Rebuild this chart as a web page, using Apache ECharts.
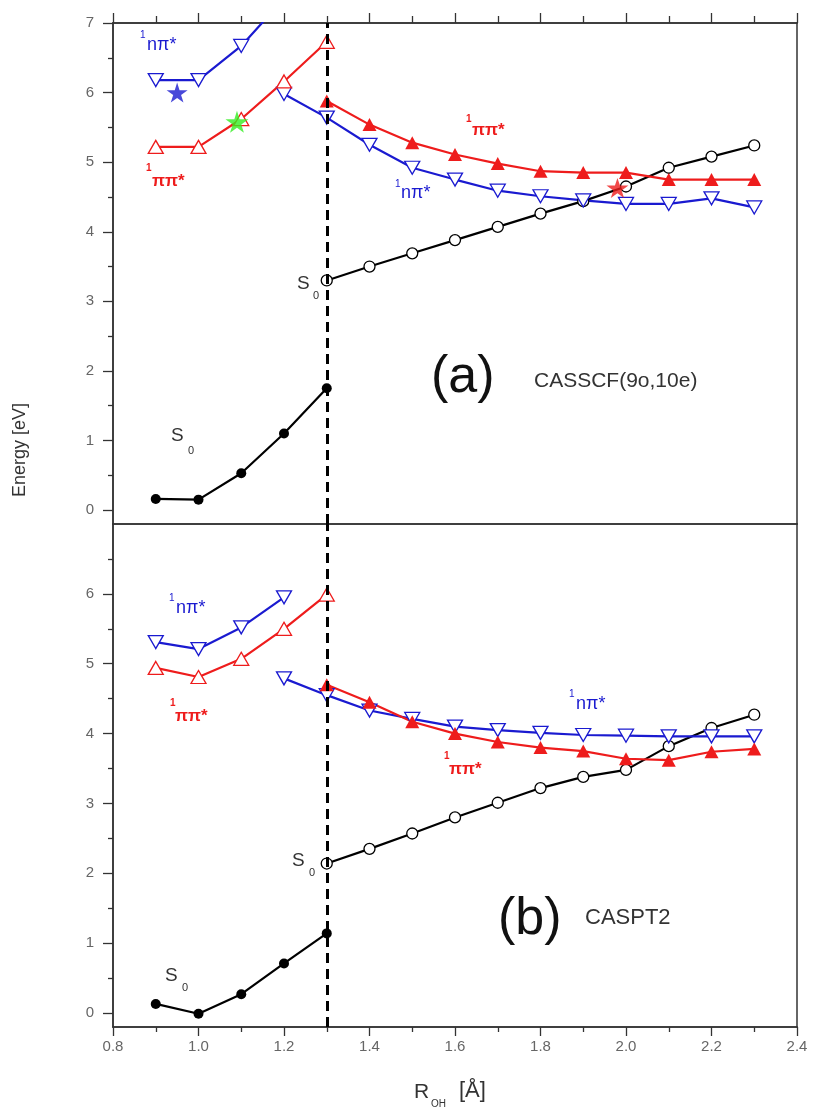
<!DOCTYPE html>
<html><head><meta charset="utf-8">
<script src="https://cdn.jsdelivr.net/npm/echarts@6/dist/echarts.min.js"></script>
<style>html,body{margin:0;padding:0;background:#fff}#c{width:813px;height:1112px}</style>
</head><body><div id="c"></div>
<script>
// ---------- data ----------
const xLow5 = [0.9, 1.0, 1.1, 1.2, 1.3];
const xLow4 = [0.9, 1.0, 1.1, 1.2];
const xHigh11 = [1.3, 1.4, 1.5, 1.6, 1.7, 1.8, 1.9, 2.0, 2.1, 2.2, 2.3];
const xHigh12 = [1.2, 1.3, 1.4, 1.5, 1.6, 1.7, 1.8, 1.9, 2.0, 2.1, 2.2, 2.3];

// (a) CASSCF
const aS0Low  = [0.16, 0.15, 0.53, 1.10, 1.75];
const aS0High = [3.30, 3.50, 3.69, 3.88, 4.07, 4.26, 4.44, 4.65, 4.92, 5.08, 5.24];
const aPPLow  = [5.22, 5.22, 5.62, 6.16, 6.73];
const aNPLow  = [6.18, 6.18, 6.67, 7.35];
const aNPHigh = [5.98, 5.64, 5.25, 4.92, 4.75, 4.59, 4.51, 4.45, 4.40, 4.40, 4.48, 4.35];
const aPPHigh = [5.88, 5.54, 5.28, 5.11, 4.98, 4.87, 4.85, 4.85, 4.75, 4.75, 4.75];
const aStarBlue  = [0.95, 6.00];
const aStarGreen = [1.09, 5.58];
const aStarRed   = [1.98, 4.63];

// (b) CASPT2
const bS0Low  = [0.13, -0.01, 0.27, 0.71, 1.14];
const bS0High = [2.14, 2.35, 2.57, 2.80, 3.01, 3.22, 3.38, 3.48, 3.82, 4.08, 4.27];
const bNPLow  = [5.31, 5.21, 5.52, 5.95];
const bPPLow  = [4.94, 4.81, 5.07, 5.50, 5.99];
const bNPHigh = [4.79, 4.55, 4.33, 4.21, 4.10, 4.05, 4.01, 3.98, 3.97, 3.96, 3.96, 3.96];
const bPPHigh = [4.70, 4.45, 4.17, 4.00, 3.88, 3.80, 3.75, 3.64, 3.62, 3.74, 3.78];

const xMajor = [0.8, 1.0, 1.2, 1.4, 1.6, 1.8, 2.0, 2.2, 2.4];
const xMinor = [0.9, 1.1, 1.3, 1.5, 1.7, 1.9, 2.1, 2.3];
const yMajorA = [0, 1, 2, 3, 4, 5, 6, 7];
const yMajorB = [0, 1, 2, 3, 4, 5, 6];
const yMinor = [0.5, 1.5, 2.5, 3.5, 4.5, 5.5, 6.5];
const dividerX = 1.3;

// ---------- styles ----------
const RED = '#ee1c1c', BLUE = '#1a1ad0', BLACK = '#000';
const FONT = '"Liberation Sans", Arial, sans-serif';
const STAR = 'path://M50,0 L61,35 L98,35 L68,57 L79,91 L50,70 L21,91 L32,57 L2,35 L39,35 Z';

function pts(xs, ys) { return xs.map((x, i) => [x, ys[i]]); }
function ser(g, xs, ys, kind, color) {
  const s = {
    type: 'line', xAxisIndex: g ? 3 : 0, yAxisIndex: g ? 3 : 0,
    data: pts(xs, ys), lineStyle: { color: color, width: 2.2 }, clip: true,
    showAllSymbol: true, silent: true, z: 3
  };
  if (kind === 'openCircle') { s.symbol = 'circle'; s.symbolSize = 11; s.itemStyle = { color: '#fff', borderColor: color, borderWidth: 1.3 }; }
  if (kind === 'fillCircle') { s.symbol = 'circle'; s.symbolSize = 10; s.itemStyle = { color: color, borderColor: color, borderWidth: 0 }; }
  if (kind === 'openUp') { s.symbol = 'triangle'; s.symbolSize = [15, 13]; s.itemStyle = { color: '#fff', borderColor: color, borderWidth: 1.3 }; }
  if (kind === 'openDown') { s.symbol = 'triangle'; s.symbolRotate = 180; s.symbolSize = [15, 13]; s.itemStyle = { color: '#fff', borderColor: color, borderWidth: 1.3 }; }
  if (kind === 'fillUp') { s.symbol = 'triangle'; s.symbolSize = [14, 13]; s.itemStyle = { color: color, borderColor: color, borderWidth: 0 }; }
  return s;
}
function star(g, p, color, size) {
  return { type: 'scatter', xAxisIndex: g ? 3 : 0, yAxisIndex: g ? 3 : 0, data: [p], symbol: STAR,
    symbolSize: size, itemStyle: { color: color }, z: 6, silent: true };
}
function divider(g) {
  return { type: 'line', xAxisIndex: g ? 3 : 0, yAxisIndex: g ? 3 : 0, data: [], silent: true,
    markLine: { symbol: 'none', silent: true, label: { show: false },
      lineStyle: { color: '#000', width: 3, type: [10, 6] }, data: [{ xAxis: dividerX }] } };
}

const axLine = { show: true, onZero: false, lineStyle: { color: '#333', width: 1.5 } };
function xAx(grid, pos, ticks, len, labels) {
  return { type: 'value', gridIndex: grid, position: pos, min: 0.8, max: 2.4,
    axisLine: axLine, splitLine: { show: false },
    axisTick: ticks ? { show: true, customValues: ticks, length: len, lineStyle: { color: '#333', width: 1.3 } } : { show: false },
    axisLabel: labels ? { show: true, customValues: labels, margin: 12, color: '#666', fontSize: 15, fontFamily: FONT,
      formatter: v => v.toFixed(1) } : { show: false } };
}
function yAx(grid, pos, ticks, len, labels) {
  return { type: 'value', gridIndex: grid, position: pos, min: -0.2, max: 7,
    axisLine: axLine, splitLine: { show: false },
    axisTick: ticks ? { show: true, customValues: ticks, length: len, lineStyle: { color: '#333', width: 1.3 } } : { show: false },
    axisLabel: labels ? { show: true, customValues: labels, margin: 19, color: '#666', fontSize: 15, fontFamily: FONT,
      formatter: v => String(Math.round(v)) } : { show: false } };
}

// ---------- annotations ----------
function txt(x, y, text, size, color, weight, extra) {
  return Object.assign({ type: 'text', x: x, y: y, z: 20, silent: true,
    style: { text: text, font: (weight || 'normal') + ' ' + size + 'px ' + FONT, fill: color,
      textAlign: 'left', textVerticalAlign: 'middle', align: 'left', verticalAlign: 'middle' } }, extra || {});
}
const gray = '#333';
const graphics = [
  // panel (a)
  txt(140, 35, '1', 10, BLUE), txt(147, 45, 'nπ*', 18, BLUE),
  txt(146, 168, '1', 10, RED, 'bold'), txt(152, 181, 'ππ*', 17, RED, 'bold'),
  txt(466, 119, '1', 10, RED, 'bold'), txt(472, 130, 'ππ*', 17, RED, 'bold'),
  txt(395, 184, '1', 10, BLUE), txt(401, 193, 'nπ*', 18, BLUE),
  txt(171, 436, 'S', 19, gray), txt(188, 451, '0', 11, gray),
  txt(297, 284, 'S', 19, gray), txt(313, 296, '0', 11, gray),
  txt(431, 378, '(a)', 52, '#111'), txt(534, 381, 'CASSCF(9o,10e)', 21, '#333'),
  // panel (b)
  txt(169, 598, '1', 10, BLUE), txt(176, 608, 'nπ*', 18, BLUE),
  txt(170, 703, '1', 10, RED, 'bold'), txt(175, 716, 'ππ*', 17, RED, 'bold'),
  txt(569, 694, '1', 10, BLUE), txt(576, 704, 'nπ*', 18, BLUE),
  txt(444, 756, '1', 10, RED, 'bold'), txt(449, 769, 'ππ*', 17, RED, 'bold'),
  txt(292, 861, 'S', 19, gray), txt(309, 873, '0', 11, gray),
  txt(165, 976, 'S', 19, gray), txt(182, 988, '0', 11, gray),
  txt(498, 920, '(b)', 52, '#111'), txt(585, 918, 'CASPT2', 22, '#333'),
  // axis titles
  txt(20, 450, 'Energy [eV]', 18, '#333', 'normal',
    { rotation: Math.PI / 2, style: { text: 'Energy [eV]', font: '18px ' + FONT, fill: '#333',
      textAlign: 'center', textVerticalAlign: 'middle', align: 'center', verticalAlign: 'middle' } }),
  txt(414, 1092, 'R', 21, '#333'), txt(431, 1104, 'OH', 10, '#333'), txt(459, 1091, '[Å]', 22, '#333')
];

const chart = echarts.init(document.getElementById('c'), null, { renderer: 'canvas' });
chart.setOption({
  animation: false,
  backgroundColor: '#fff',
  grid: [
    { left: 113, top: 23, width: 684, height: 501 },
    { left: 113, top: 524, width: 684, height: 503 }
  ],
  xAxis: [
    xAx(0, 'bottom', null),
    xAx(0, 'top', xMajor, 10),
    xAx(0, 'top', xMinor, 7),
    xAx(1, 'bottom', xMajor, 9, xMajor),
    xAx(1, 'bottom', xMinor, 5),
    xAx(1, 'top', null)
  ],
  yAxis: [
    yAx(0, 'left', yMajorA, 10, yMajorA),
    yAx(0, 'left', yMinor, 5),
    yAx(0, 'right', null),
    yAx(1, 'left', yMajorB, 10, yMajorB),
    yAx(1, 'left', yMinor, 5),
    yAx(1, 'right', null)
  ],
  series: [
    divider(0), divider(1),
    // (a)
    ser(0, xLow5, aS0Low, 'fillCircle', BLACK),
    ser(0, xHigh11, aS0High, 'openCircle', BLACK),
    ser(0, xLow4, aNPLow, 'openDown', BLUE),
    ser(0, xHigh12, aNPHigh, 'openDown', BLUE),
    ser(0, xLow5, aPPLow, 'openUp', RED),
    ser(0, xHigh11, aPPHigh, 'fillUp', RED),
    star(0, aStarBlue, '#1a1ad0', [21, 20]),
    star(0, aStarGreen, '#33ee22', [23, 22]),
    star(0, aStarRed, RED, [22, 20]),
    // (b)
    ser(1, xLow5, bS0Low, 'fillCircle', BLACK),
    ser(1, xHigh11, bS0High, 'openCircle', BLACK),
    ser(1, xLow4, bNPLow, 'openDown', BLUE),
    ser(1, xHigh12, bNPHigh, 'openDown', BLUE),
    ser(1, xLow5, bPPLow, 'openUp', RED),
    ser(1, xHigh11, bPPHigh, 'fillUp', RED)
  ],
  graphic: graphics
});
</script>
</body></html>
